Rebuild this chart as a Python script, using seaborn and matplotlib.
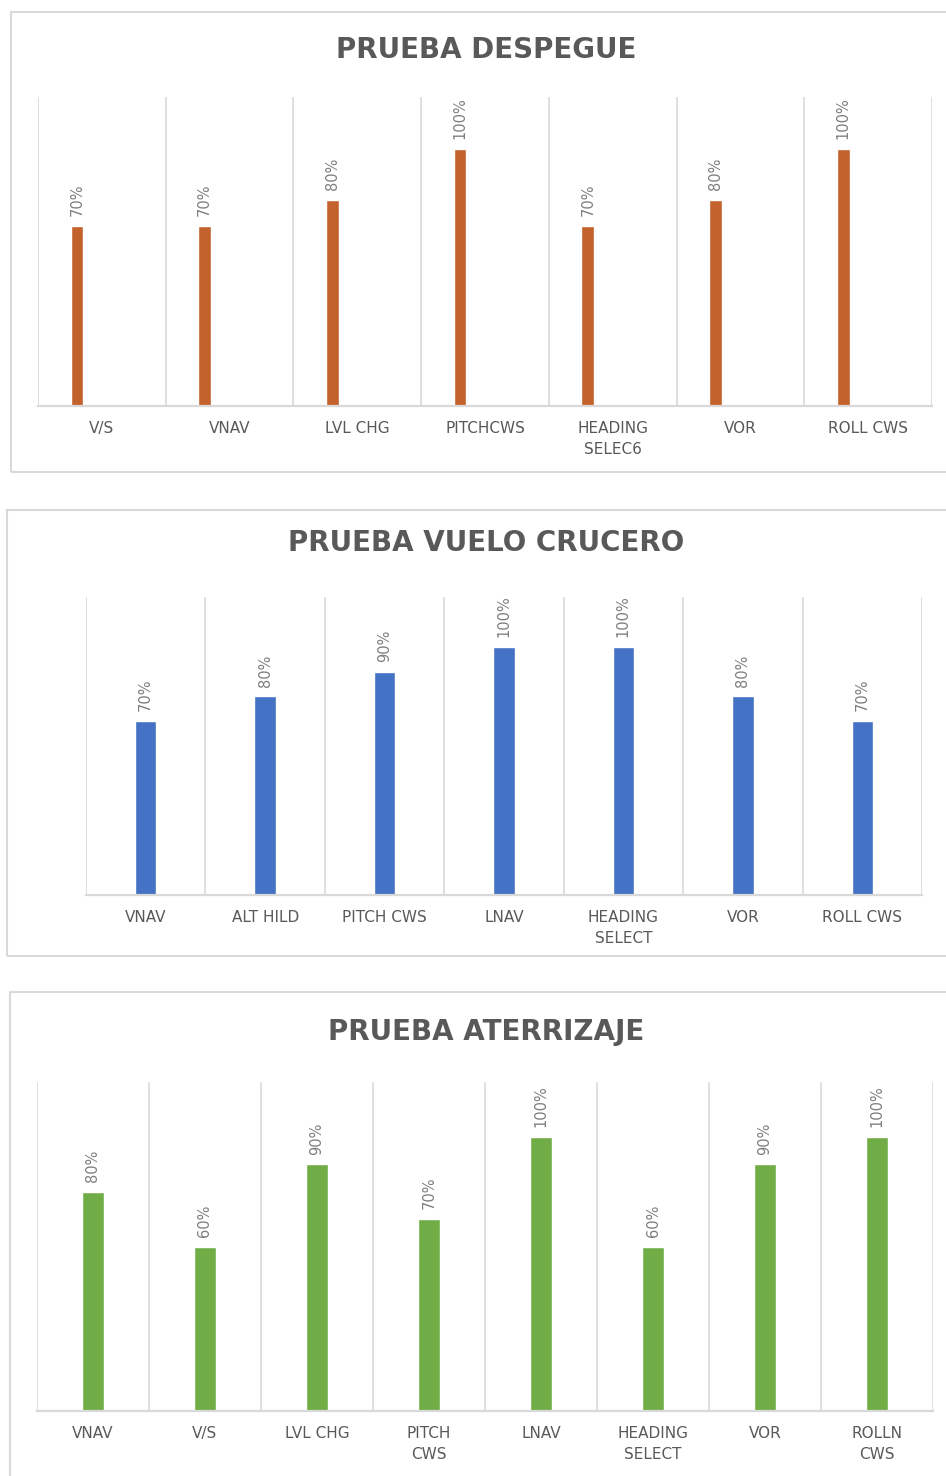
import numpy as np
import seaborn as sns
import matplotlib.pyplot as plt
from matplotlib.patches import Rectangle

# Data
despegue_cats = ["V/S", "VNAV", "LVL CHG", "PITCHCWS", "HEADING\nSELEC6", "VOR", "ROLL CWS"]
despegue_vals = [70, 70, 80, 100, 70, 80, 100]

crucero_cats = ["VNAV", "ALT HILD", "PITCH CWS", "LNAV", "HEADING\nSELECT", "VOR", "ROLL CWS"]
crucero_vals = [70, 80, 90, 100, 100, 80, 70]

aterrizaje_cats = ["VNAV", "V/S", "LVL CHG", "PITCH\nCWS", "LNAV", "HEADING\nSELECT", "VOR", "ROLLN\nCWS"]
aterrizaje_vals = [80, 60, 90, 70, 100, 60, 90, 100]

W, H = 946, 1476
GRID = "#d9d9d9"
TEXT = "#595959"

sns.set_style("white")
plt.rcParams["font.family"] = ["DejaVu Sans"]

fig = plt.figure(figsize=(W / 100, H / 100), dpi=100)


def px_box(x0, y0, x1, y1):
    """Pixel box (top-left origin) -> figure fraction [left, bottom, width, height]."""
    return [x0 / W, 1 - y1 / H, (x1 - x0) / W, (y1 - y0) / H]


def draw_panel(cats, vals, color, title, border, axes_px, title_y, bar_w, shift=0.0):
    # panel frame
    b = px_box(*border)
    fig.add_artist(Rectangle((b[0], b[1]), b[2], b[3], transform=fig.transFigure,
                             fill=False, ec=GRID, lw=1.5))
    fig.text(486 / W, 1 - title_y / H, title, ha="center", va="center",
             fontsize=20, fontweight="bold", color=TEXT)

    ax = fig.add_axes(px_box(*axes_px))
    sns.barplot(x=cats, y=vals, color=color, width=bar_w, saturation=1, ax=ax)
    for p in ax.patches:
        p.set_x(p.get_x() + shift)
    ax.bar_label(ax.containers[0], labels=[f"{v}%" for v in vals], rotation=90,
                 padding=7, fontsize=10.5, color="#7f7f7f")

    n = len(cats)
    ax.set_xlim(-0.5, n - 0.5)
    ax.set_ylim(0, 120)
    ax.set_yticks([])
    ax.set_xticks(np.arange(n + 1) - 0.5, minor=True)
    ax.grid(which="minor", axis="x", color=GRID, lw=1.2)
    ax.grid(which="major", visible=False)
    ax.tick_params(axis="x", which="both", length=0, pad=11, labelsize=11, labelcolor=TEXT)
    for t in ax.get_xticklabels():
        t.set_linespacing(1.45)
    for s in ["left", "top", "right"]:
        ax.spines[s].set_visible(False)
    ax.spines["bottom"].set_color(GRID)
    ax.spines["bottom"].set_linewidth(1.6)
    ax.set_xlabel("")
    ax.set_ylabel("")
    ax.set_axisbelow(True)
    return ax


draw_panel(despegue_cats, despegue_vals, "#C4622D", "PRUEBA DESPEGUE",
           (11, 12, 952, 472), (38, 97, 932, 406), 50, 0.10, shift=-0.195)
draw_panel(crucero_cats, crucero_vals, "#4472C4", "PRUEBA VUELO CRUCERO",
           (7, 510, 952, 956), (86, 597, 922, 895), 543, 0.18)
draw_panel(aterrizaje_cats, aterrizaje_vals, "#70AD47", "PRUEBA ATERRIZAJE",
           (10, 992, 952, 1480), (37, 1082, 933, 1411), 1032, 0.19)

fig.savefig("out.png", dpi=100)
